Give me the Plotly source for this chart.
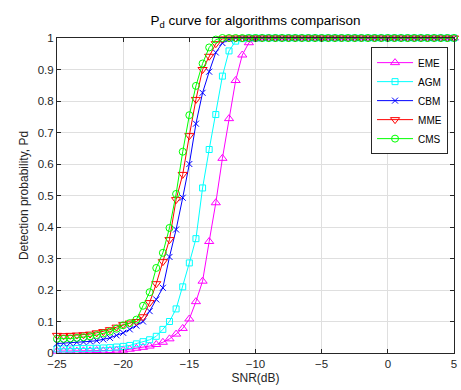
import plotly.graph_objects as go

snr = [-25, -24.5, -24, -23.5, -23, -22.5, -22, -21.5, -21, -20.5, -20,
       -19.5, -19, -18.5, -18, -17.5, -17, -16.5, -16, -15.5, -15,
       -14.5, -14, -13.5, -13, -12.5, -12, -11.5, -11, -10.5, -10,
       -9.5, -9, -8.5, -8, -7.5, -7, -6.5, -6, -5.5, -5,
       -4.5, -4, -3.5, -3, -2.5, -2, -1.5, -1, -0.5, 0,
       0.5, 1, 1.5, 2, 2.5, 3, 3.5, 4, 4.5, 5]

eme = ([0.006, 0.006, 0.007, 0.006, 0.007, 0.007, 0.008, 0.007, 0.008, 0.009, 0.009,
        0.012, 0.015, 0.018, 0.022, 0.027, 0.034, 0.045, 0.060, 0.078, 0.108,
        0.163, 0.228, 0.354, 0.477, 0.618, 0.744, 0.865, 0.946, 0.985, 0.997]
       + [1.0] * 30)
agm = ([0.013, 0.013, 0.013, 0.014, 0.014, 0.015, 0.015, 0.016, 0.017, 0.019, 0.021,
        0.024, 0.029, 0.036, 0.042, 0.053, 0.075, 0.100, 0.140, 0.210, 0.286,
        0.363, 0.524, 0.646, 0.757, 0.879, 0.959, 0.990, 0.998]
       + [1.0] * 32)
cbm = ([0.030, 0.031, 0.032, 0.034, 0.035, 0.037, 0.039, 0.043, 0.048, 0.056, 0.064,
        0.075, 0.087, 0.100, 0.133, 0.170, 0.207, 0.305, 0.392, 0.493, 0.600,
        0.728, 0.826, 0.893, 0.954, 0.984, 0.996]
       + [1.0] * 34)
mme = ([0.056, 0.055, 0.056, 0.057, 0.058, 0.060, 0.064, 0.068, 0.074, 0.082, 0.090,
        0.095, 0.100, 0.115, 0.160, 0.220, 0.290, 0.360, 0.487, 0.567, 0.690,
        0.805, 0.900, 0.942, 0.982, 0.997]
       + [1.0] * 35)
cms = ([0.045, 0.045, 0.046, 0.048, 0.050, 0.053, 0.057, 0.062, 0.068, 0.077, 0.088,
        0.095, 0.106, 0.150, 0.193, 0.270, 0.318, 0.397, 0.505, 0.639, 0.755,
        0.848, 0.919, 0.970, 0.995]
       + [1.0] * 36)

x_ticks = [-25, -20, -15, -10, -5, 0, 5]
y_ticks = [0, 0.1, 0.2, 0.3, 0.4, 0.5, 0.6, 0.7, 0.8, 0.9, 1]
y_tick_labels = ["0", "0.1", "0.2", "0.3", "0.4", "0.5", "0.6", "0.7", "0.8", "0.9", "1"]

series = [
    ("EME", eme, "#FF00FF", "triangle-up-open", 8),
    ("AGM", agm, "#00FFFF", "square-open", 6),
    ("CBM", cbm, "#0000FF", "x-thin-open", 6),
    ("MME", mme, "#FF0000", "triangle-down-open", 8),
    ("CMS", cms, "#00FF00", "circle-open", 7),
]

FONT = "Liberation Sans, Arial, Helvetica, sans-serif"
AX = "#262626"

fig = go.Figure()
for name, vals, color, sym, sz in series:
    fig.add_trace(go.Scatter(
        x=snr, y=vals, name=name, mode="lines+markers",
        line=dict(color=color, width=1),
        marker=dict(symbol=sym, size=sz, color=color,
                    line=dict(color=color, width=1)),
        cliponaxis=False,
    ))

fig.update_layout(
    width=461, height=390,
    margin=dict(l=57, r=4, t=38, b=37),
    paper_bgcolor="white", plot_bgcolor="white",
    font=dict(family=FONT, size=11.5, color=AX),
    title=dict(text="P<sub>d</sub> curve for algorithms comparison",
               x=0.5, xref="paper", xanchor="center",
               y=1 - 20 / 390, yref="container", yanchor="middle",
               font=dict(family=FONT, size=13.5, color="black")),
    showlegend=True,
    legend=dict(x=0.985, xanchor="right", y=0.971, yanchor="top",
                bgcolor="white", bordercolor=AX, borderwidth=1,
                font=dict(family=FONT, size=10, color="black"),
                itemwidth=36, tracegroupgap=0),
)
fig.update_xaxes(range=[-25, 5], tickvals=x_ticks,
                 showgrid=True, gridcolor="#dfdfdf", gridwidth=1,
                 zeroline=False, showline=True, linecolor=AX, linewidth=1,
                 mirror="ticks", ticks="inside", ticklen=4, tickcolor=AX,
                 title=dict(text="SNR(dB)", standoff=4,
                            font=dict(family=FONT, size=12, color=AX)))
fig.update_yaxes(range=[0, 1], tickvals=y_ticks, ticktext=y_tick_labels,
                 showgrid=True, gridcolor="#dfdfdf", gridwidth=1,
                 zeroline=False, showline=True, linecolor=AX, linewidth=1,
                 mirror="ticks", ticks="inside", ticklen=4, tickcolor=AX,
                 title=dict(text="Detection probability, Pd", standoff=6,
                            font=dict(family=FONT, size=12, color=AX)))

fig.write_html("out.html", config={"displayModeBar": False},
               post_script="document.body.style.margin='0';")
